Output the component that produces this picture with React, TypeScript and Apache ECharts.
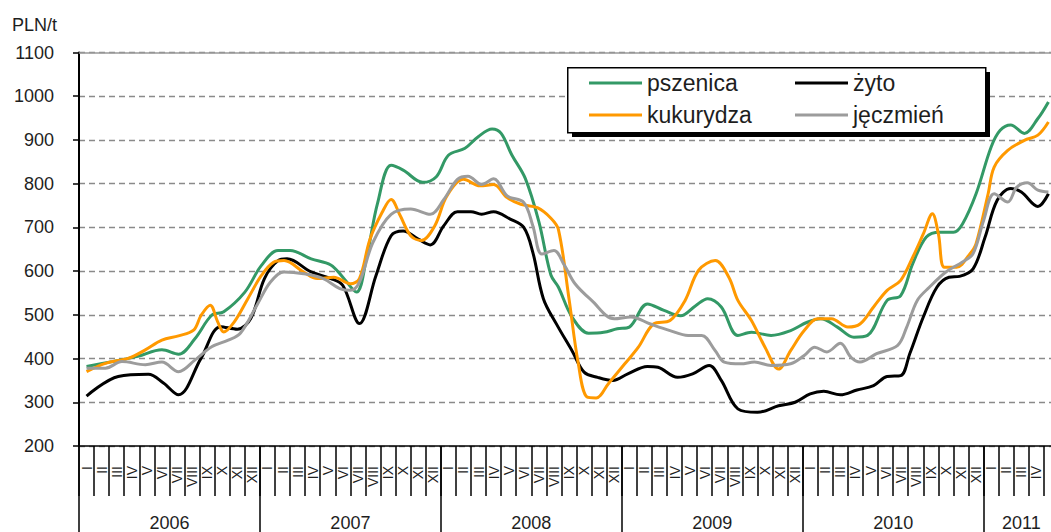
import React, { useEffect, useRef } from "react";
import * as echarts from "echarts";

// x = months since 1 Jan 2006, y = PLN/t
const pszenica: [number, number][] = [
  [0.5, 382], [2.2, 393], [3.9, 405], [5.5, 420], [6.6, 410], [7.7, 446], [8.8, 499], [9.6, 507],
  [11, 552], [12.1, 613], [13.2, 647], [14, 647], [15.4, 628], [16.7, 614], [17.5, 586], [18.4, 552],
  [19.1, 636], [19.8, 755], [20.7, 842], [21.5, 831], [22.8, 803], [23.7, 816], [24.5, 865], [25.6, 881],
  [26.5, 908], [27.4, 925], [28, 915], [28.7, 866], [29.6, 812], [30.5, 713], [31.3, 591], [31.8, 563],
  [32.7, 495], [33.8, 458], [34.8, 460], [35.7, 468], [36.5, 472], [37.7, 525], [38.8, 510], [39.9, 498],
  [40.9, 521], [41.7, 537], [42.6, 518], [43.7, 453], [44.6, 460], [45.9, 453], [47.2, 464], [48.3, 483],
  [49.2, 491], [50.3, 472], [51.4, 449], [52.3, 453], [53.6, 533], [54.5, 544], [55.3, 617], [56.2, 678],
  [57.1, 689], [58, 689], [58.6, 708], [59.5, 777], [60.5, 884], [61.1, 922], [61.8, 934], [62.7, 915],
  [63.6, 949], [64.3, 987],
];

const zyto: [number, number][] = [
  [0.5, 314], [2.6, 359], [4.6, 364], [5.6, 344], [6.6, 317], [8.1, 401], [9.4, 473], [10.5, 467],
  [11.4, 492], [12.3, 583], [13.2, 624], [13.8, 628], [15.4, 598], [16.7, 583], [17.5, 567], [18.6, 480],
  [19.7, 590], [20.7, 681], [21.5, 692], [22.5, 673], [23.3, 660], [24.2, 704], [25.1, 736], [26, 736],
  [26.7, 730], [27.5, 736], [28.6, 719], [29.5, 700], [30.1, 643], [30.8, 537], [31.7, 477], [32.7, 418],
  [33.5, 369], [34.4, 357], [35.4, 350], [36.4, 365], [37.7, 382], [38.4, 380], [39.7, 357], [40.7, 365],
  [41.8, 384], [42.6, 350], [43.7, 285], [45, 277], [46.4, 292], [47.5, 300], [48.5, 319], [49.4, 325],
  [50.5, 317], [51.6, 328], [52.7, 338], [53.6, 359], [54.5, 361], [55.1, 411], [56, 495], [56.9, 563],
  [57.7, 586], [58.4, 588], [59.3, 605], [60.1, 678], [60.9, 762], [61.8, 789], [62.5, 781], [63.6, 748],
  [64.3, 777],
];

const kukurydza: [number, number][] = [
  [0.5, 370], [1.75, 389], [3.3, 401], [4.4, 420], [5.5, 442], [6.6, 452], [7.6, 465], [8.1, 499],
  [8.7, 522], [9.2, 484], [9.6, 461], [10.3, 484], [11.2, 537], [12.1, 590], [12.9, 620], [13.6, 624],
  [14.9, 598], [15.8, 583], [16.9, 586], [18, 571], [18.6, 583], [19.3, 673], [20.1, 734], [20.7, 764],
  [21.3, 727], [22, 681], [22.7, 670], [23.6, 704], [24.4, 772], [25.5, 810], [26.6, 795], [27.5, 798],
  [28.4, 768], [29.3, 753], [30.4, 745], [31.3, 721], [31.8, 695], [32.5, 537], [33.1, 392], [33.7, 312],
  [34.3, 310], [35.1, 342], [36.2, 388], [37.1, 426], [38.1, 479], [39.2, 487], [40.2, 533], [41.1, 602],
  [42.2, 624], [43.1, 586], [43.7, 533], [44.6, 487], [45.5, 426], [46.4, 376], [47.2, 418], [48.1, 464],
  [49, 491], [49.9, 491], [51, 472], [51.8, 479], [52.7, 518], [53.6, 556], [54.5, 579], [55.3, 632],
  [56, 685], [56.6, 731], [57, 685], [57.4, 609], [58.2, 609], [59.1, 640], [59.5, 663], [60.3, 777],
  [60.7, 838], [61.6, 876], [62.7, 899], [63.6, 911], [64.3, 941],
];

const jeczmien: [number, number][] = [
  [0.5, 378], [1.75, 378], [2.85, 393], [4.4, 386], [5.5, 392], [6.6, 370], [7.7, 397], [8.8, 427],
  [9.9, 442], [10.7, 458], [11.8, 522], [12.7, 575], [13.6, 598], [14.9, 594], [16.2, 583], [17.3, 560],
  [18, 556], [18.6, 575], [19.5, 666], [20.7, 730], [22, 742], [23.3, 730], [24.2, 764], [25.1, 810],
  [25.8, 817], [26.7, 798], [27.5, 811], [28.4, 772], [29.5, 757], [30.1, 704], [30.7, 639], [31.5, 647],
  [32.2, 613], [32.9, 571], [34, 533], [35.5, 491], [36.6, 495], [37.9, 479], [39.2, 464], [40.4, 453],
  [41.3, 453], [42.2, 418], [42.8, 392], [43.9, 388], [44.8, 392], [45.9, 384], [47.2, 388], [48.1, 407],
  [48.8, 426], [49.6, 415], [50.5, 435], [51.2, 403], [51.8, 392], [52.9, 411], [54.3, 430], [54.9, 472],
  [55.6, 533], [56.4, 563], [57.5, 598], [58.6, 621], [59.3, 640], [60, 716], [60.7, 777], [61.6, 758],
  [62.2, 792], [62.9, 802], [63.6, 785], [64.3, 781],
];

const monthNames = ["I", "II", "III", "IV", "V", "VI", "VII", "VIII", "IX", "X", "XI", "XII"];
const years = ["2006", "2007", "2008", "2009", "2010", "2011"];
const yearCenters = [6, 18, 30, 42, 54, 62.5];
const monthCount = 65;
const labelledMonths = 64;
const yTicks = { min: 200, max: 1100, step: 100 };

const FONT = "Liberation Sans, Arial, sans-serif";
const TXT = "#1e1e1e";

export default function App() {
  const ref = useRef<HTMLDivElement>(null);
  useEffect(() => {
    if (!ref.current) return;
    const chart = echarts.init(ref.current, undefined, { renderer: "svg" });
    const monthLabels: string[] = [];
    for (let i = 0; i < monthCount; i++) monthLabels.push(monthNames[i % 12]);

    const mkSeries = (name: string, data: [number, number][], color: string) => ({
      name,
      type: "line",
      data,
      xAxisIndex: 0,
      yAxisIndex: 0,
      symbol: "none",
      showSymbol: false,
      smooth: 0.35,
      color,
      lineStyle: { color, width: 3 },
      z: 3,
    });

    const legendCommon = {
      orient: "vertical",
      top: 71,
      padding: 0,
      itemWidth: 53,
      itemHeight: 14,
      itemGap: 8,
      icon: "path://M0,6 L53,6 L53,9 L0,9 Z",
      textStyle: { fontFamily: FONT, fontSize: 23, color: TXT, lineHeight: 24 },
      z: 12,
    };

    chart.setOption({
      animation: false,
      backgroundColor: "#ffffff",
      textStyle: { fontFamily: FONT },
      grid: { left: 79, right: 0, top: 52.5, bottom: 84.5, containLabel: false },
      legend: [
        { ...legendCommon, left: 589, data: ["pszenica", "kukurydza"] },
        { ...legendCommon, left: 795, data: ["żyto", "jęczmień"] },
      ],
      graphic: [
        { type: "rect", left: 572, top: 72, shape: { width: 418, height: 65 }, style: { fill: "#000" }, z: 10 },
        {
          type: "rect",
          left: 567,
          top: 67,
          shape: { width: 418, height: 65 },
          style: { fill: "#fff", stroke: "#000", lineWidth: 1.5 },
          z: 11,
        },
        {
          type: "text",
          left: 12,
          top: 16,
          style: { text: "PLN/t", fontFamily: FONT, fontSize: 18, fill: TXT },
          z: 12,
        },
      ],
      xAxis: [
        { type: "value", min: 0, max: monthCount, show: false },
        {
          type: "category",
          position: "bottom",
          data: monthLabels,
          boundaryGap: true,
          axisLine: { show: true, lineStyle: { color: "#000", width: 1.5 } },
          axisTick: { show: true, interval: 0, length: 50, lineStyle: { color: "#000", width: 1.5 } },
          axisLabel: {
            interval: (index: number) => index < labelledMonths,
            rotate: 90,
            margin: 20,
            fontSize: 14,
            fontFamily: FONT,
            color: TXT,
          },
          splitLine: { show: false },
        },
        {
          type: "value",
          position: "bottom",
          min: 0,
          max: monthCount,
          interval: 12,
          axisLine: { show: false },
          axisTick: { show: true, length: 86, lineStyle: { color: "#000", width: 1.5 } },
          axisLabel: { show: false },
          splitLine: { show: false },
        },
        {
          type: "value",
          position: "bottom",
          min: 0,
          max: monthCount,
          interval: 0.5,
          axisLine: { show: false },
          axisTick: { show: false },
          axisLabel: {
            show: true,
            margin: 68,
            fontSize: 18,
            fontFamily: FONT,
            color: TXT,
            showMinLabel: true,
            showMaxLabel: true,
            formatter: (v: number) => {
              const i = yearCenters.findIndex((c) => Math.abs(c - v) < 0.01);
              return i >= 0 ? years[i] : "";
            },
          },
          splitLine: { show: false },
        },
        {
          type: "value",
          position: "top",
          min: 0,
          max: monthCount,
          axisLine: { show: true, lineStyle: { color: "#999", width: 1.5 } },
          axisTick: { show: false },
          axisLabel: { show: false },
          splitLine: { show: false },
        },
      ],
      yAxis: {
        type: "value",
        min: yTicks.min,
        max: yTicks.max,
        interval: yTicks.step,
        axisLine: { show: true, lineStyle: { color: "#000", width: 2 } },
        axisTick: { show: true, length: 6, lineStyle: { color: "#000", width: 1.5 } },
        axisLabel: {
          margin: 25,
          fontSize: 18,
          fontFamily: FONT,
          color: TXT,
          formatter: (v: number) => String(v),
        },
        splitLine: { show: true, lineStyle: { color: "#8a8a8a", width: 1.3, type: [6, 4] } },
      },
      series: [
        mkSeries("pszenica", pszenica, "#339966"),
        mkSeries("żyto", zyto, "#000000"),
        mkSeries("kukurydza", kukurydza, "#ff9900"),
        mkSeries("jęczmień", jeczmien, "#9c9c9c"),
      ],
    });
    return () => chart.dispose();
  }, []);

  return (
    <div
      style={{
        position: "fixed",
        left: 0,
        top: 0,
        width: 1051,
        height: 532,
        overflow: "hidden",
        background: "#fff",
      }}
    >
      <div ref={ref} style={{ width: 1062, height: 532 }} />
    </div>
  );
}
